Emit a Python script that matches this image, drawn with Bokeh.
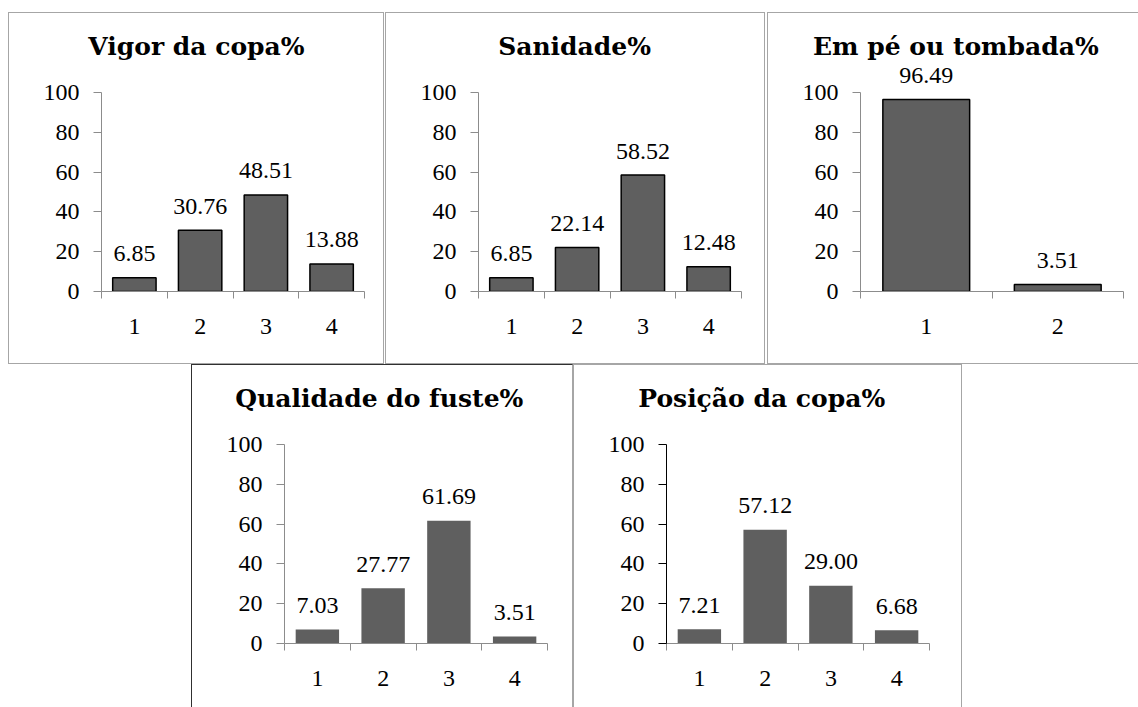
from bokeh.plotting import figure
from bokeh.models import Range1d, FixedTicker, LabelSet, ColumnDataSource, Spacer
from bokeh.layouts import row, column
from bokeh.core.properties import value
from bokeh.embed import file_html
from bokeh.resources import INLINE

# ---- data ----
titles = ["Vigor da copa%", "Sanidade%", "Em pé ou tombada%",
          "Qualidade do fuste%", "Posição da copa%"]
cats4 = ["1", "2", "3", "4"]
cats2 = ["1", "2"]
vigor = [6.85, 30.76, 48.51, 13.88]
sanidade = [6.85, 22.14, 58.52, 12.48]
em_pe = [96.49, 3.51]
fuste = [7.03, 27.77, 61.69, 3.51]
posicao = [7.21, 57.12, 29.00, 6.68]
y_ticks = [0, 20, 40, 60, 80, 100]

FONT = "'Liberation Serif'"
TITLE_FONT = "DejaVu Serif"
FRAME_L, FRAME_W = 92, 263       # frame left / width in px
AXIS_TOP, AXIS_H = 79, 199       # pixel row of y=100 and px height of 0..100
FRAME_T = 50                     # frame top (extra room for labels above 100)
TITLE_PX = 25
TITLE_CX = 190                   # title centre, px from panel's left edge

# approximate DejaVu Serif Bold advance widths (em), used to centre titles
BOLD_W = {" ": .348, "%": 1.002, "V": .836, "S": .720, "E": .761, "Q": .850,
          "P": .733, "a": .675, "b": .712, "c": .593, "d": .712, "e": .678,
          "f": .435, "g": .712, "i": .378, "l": .378, "m": 1.049, "n": .716,
          "o": .687, "p": .712, "r": .532, "s": .595, "t": .478, "u": .716,
          "é": .678, "ç": .593, "ã": .675}


def text_width(s, px):
    return sum(BOLD_W.get(ch, .68) for ch in s) * px


def make_panel(title, cats, vals, width, height, border, bar_line, yaxis_color):
    n = len(cats)
    xs = list(range(1, n + 1))
    extra_px = AXIS_TOP - FRAME_T
    y_end = 100 + extra_px * 100.0 / AXIS_H
    frame_h = AXIS_H + extra_px
    p = figure(width=width, height=height,
               x_range=Range1d(0.5, n + 0.5), y_range=Range1d(0, y_end),
               output_backend="svg", toolbar_location=None,
               min_border_left=FRAME_L, min_border_top=FRAME_T,
               min_border_right=width - FRAME_L - FRAME_W,
               min_border_bottom=height - FRAME_T - frame_h)
    p.outline_line_color = None
    p.grid.visible = False
    p.styles = border

    p.title.text = title
    p.title.text_font = TITLE_FONT
    p.title.text_font_style = "bold"
    p.title.text_font_size = "%dpx" % TITLE_PX
    p.title.text_color = "#000000"
    p.title.align = "left"
    p.title.offset = TITLE_CX - text_width(title, TITLE_PX) / 2.0 - FRAME_L
    p.title.standoff = 5

    src = ColumnDataSource(dict(x=xs, top=vals, label=["%.2f" % v for v in vals]))
    p.vbar(x="x", top="top", width=0.66, source=src, fill_color="#5f5f5f",
           line_color=bar_line, line_width=1.5 if bar_line else 0)

    xa = p.xaxis[0]
    xa.ticker = FixedTicker(ticks=xs, minor_ticks=[i + 0.5 for i in range(n + 1)])
    xa.major_label_overrides = {x: c for x, c in zip(xs, cats)}
    xa.major_tick_out = 0
    xa.major_tick_in = 0
    xa.minor_tick_out = 7
    xa.minor_tick_in = 0
    xa.axis_line_color = "#8c8c8c"
    xa.minor_tick_line_color = "#8c8c8c"
    xa.major_label_standoff = 20
    xa.major_label_text_font = FONT
    xa.major_label_text_font_size = "24px"
    xa.major_label_text_color = "#000000"

    ya = p.yaxis[0]
    ya.ticker = FixedTicker(ticks=y_ticks, minor_ticks=[])
    ya.bounds = (0, 100)
    ya.major_tick_out = 8
    ya.major_tick_in = 0
    ya.axis_line_color = yaxis_color
    ya.major_tick_line_color = yaxis_color
    ya.major_label_standoff = 14
    ya.major_label_text_font = FONT
    ya.major_label_text_font_size = "24px"
    ya.major_label_text_color = "#000000"

    labels = LabelSet(x="x", y="top", text="label", source=src,
                      text_align="center", text_baseline="middle", y_offset=24,
                      text_font=value(FONT), text_font_size=value("24px"),
                      text_color="#000000")
    p.add_layout(labels)
    return p


gray = "1px solid #a6a6a6"
dark = "1px solid #303030"
b_full = {"border": gray, "box-sizing": "border-box"}
b_noright = {"border-left": gray, "border-top": gray, "border-bottom": gray,
             "box-sizing": "border-box"}
b_bot_dark = {"border-left": dark, "border-top": dark, "border-right": gray,
              "box-sizing": "border-box"}
b_bot_gray = {"border-left": gray, "border-top": gray, "border-right": gray,
              "box-sizing": "border-box"}

p1 = make_panel(titles[0], cats4, vigor, 376, 352, b_full, "black", "#8c8c8c")
p2 = make_panel(titles[1], cats4, sanidade, 380, 352, b_full, "black", "#8c8c8c")
p3 = make_panel(titles[2], cats2, em_pe, 371, 352, b_noright, "black", "#8c8c8c")
p4 = make_panel(titles[3], cats4, fuste, 382, 343, b_bot_dark, None, "#8c8c8c")
p5 = make_panel(titles[4], cats4, posicao, 389, 343, b_bot_gray, None, "#000000")

top = row(Spacer(width=8, height=352), p1, Spacer(width=1, height=352), p2,
          Spacer(width=2, height=352), p3)
bottom = row(Spacer(width=191, height=343), p4, p5)
layout = column(Spacer(width=1138, height=12), top, bottom)

open("out.html", "w").write(file_html(layout, INLINE))
